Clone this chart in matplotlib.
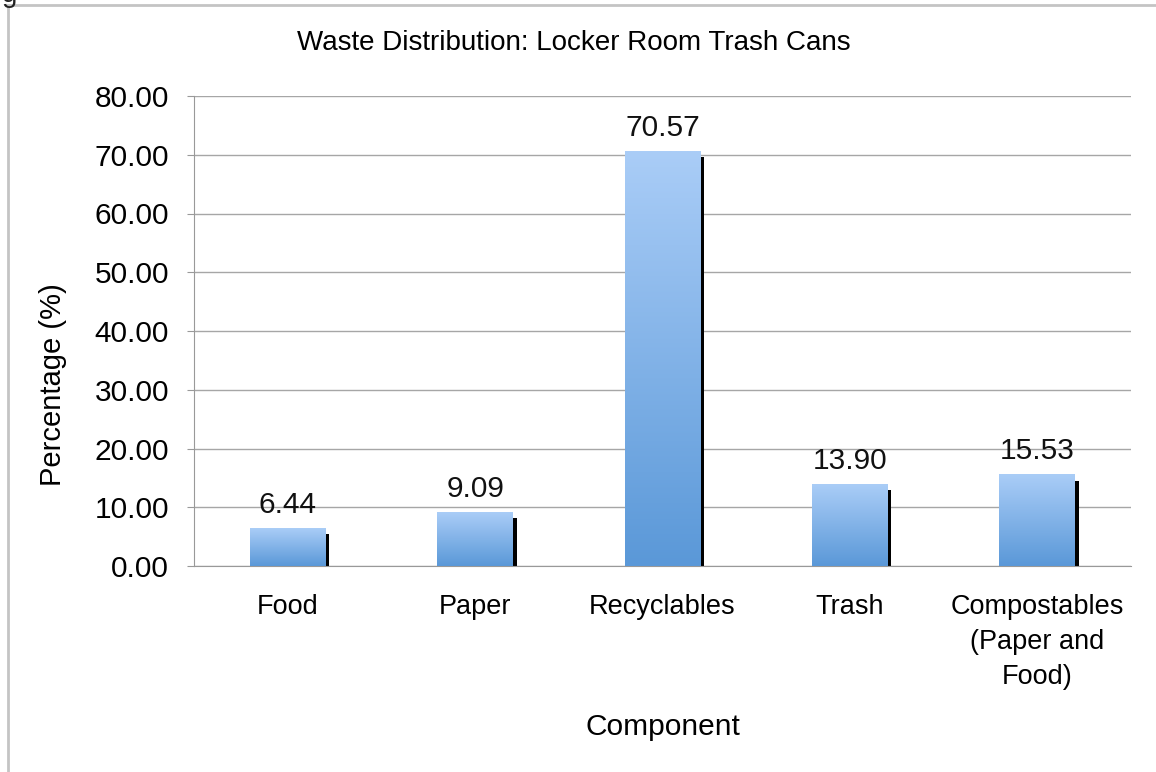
import numpy as np
import matplotlib.pyplot as plt
from matplotlib.colors import LinearSegmentedColormap
from matplotlib.patches import Rectangle

plt.rcParams['font.family'] = ['Liberation Sans', 'DejaVu Sans']

# waste components and their share (%)
components = ['Food', 'Paper', 'Recyclables', 'Trash', 'Compostables\n(Paper and\nFood)']
percentages = [6.44, 9.09, 70.57, 13.90, 15.53]

W, H = 1156, 772
fig = plt.figure(figsize=(W / 100, H / 100), dpi=100)
ax = fig.add_axes([194 / W, 1 - 566 / H, 937 / W, 470 / H])

# outer chart frame
fig.patches.append(Rectangle((8 / W, -0.1), 1.2, 1.1 - 5 / H, transform=fig.transFigure,
                             fill=False, edgecolor='#c4c4c4', linewidth=2, zorder=0))
fig.text(0.002, 1 - 2 / H, 'g', fontsize=20, color='#222222', va='baseline')

grad = LinearSegmentedColormap.from_list('blues', ['#5a98d8', '#aacdf7'])
bar_w = 0.405
x = np.arange(len(components))

for xi, v in zip(x, percentages):
    # drop shadow on the right edge
    ax.bar(xi + bar_w / 2 + 0.008, v - 1.0, width=0.022, color='black', zorder=2)
    # gradient-filled bar
    ax.imshow(np.linspace(0, 1, 256).reshape(-1, 1), cmap=grad, aspect='auto',
              origin='lower', extent=[xi - bar_w / 2, xi + bar_w / 2, 0, v], zorder=3)
    ax.text(xi, v + 1.6, f'{v:.2f}', ha='center', va='bottom', fontsize=21.5, color='#111111')

ax.set_xlim(-0.5, len(components) - 0.5)
ax.set_ylim(0, 80)
ax.set_yticks(np.arange(0, 81, 10))
ax.set_yticklabels([f'{t:.2f}' for t in np.arange(0, 81, 10)], fontsize=21.5)
ax.set_xticks(x)
ax.set_xticklabels(components, fontsize=19.5, va='top', linespacing=1.45)
ax.tick_params(axis='x', length=0, pad=20)
ax.tick_params(axis='y', length=5, color='#999999', pad=13)

ax.grid(axis='y', color='#a6a6a6', linewidth=1)
ax.set_axisbelow(True)
for s in ['top', 'right']:
    ax.spines[s].set_visible(False)
ax.spines['left'].set_color('#999999')
ax.spines['bottom'].set_color('#999999')

fig.text(574 / W, 1 - 43 / H, 'Waste Distribution: Locker Room Trash Cans',
         fontsize=20, ha='center', va='center')
fig.text(53 / W, 1 - 385 / H, 'Percentage (%)', fontsize=21, rotation=90,
         ha='center', va='center')
fig.text(663 / W, 1 - 727 / H, 'Component', fontsize=21.5, ha='center', va='center')

fig.savefig('out.png', dpi=100)
